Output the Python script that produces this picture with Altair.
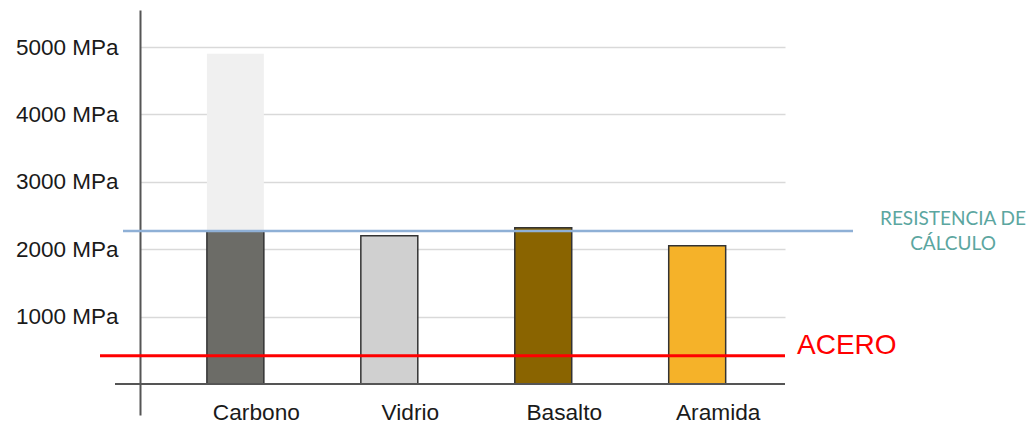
import altair as alt
import pandas as pd

# Tensile strength of fibre reinforcements (MPa)
materials = ["Carbono", "Vidrio", "Basalto", "Aramida"]
strength = [2270, 2200, 2320, 2050]
carbon_peak = 4900
fill_colors = ["#6c6c67", "#d0d0d0", "#8a6400", "#f5b229"]
steel_strength = 420
design_strength = 2270
y_ticks = [1000, 2000, 3000, 4000, 5000]

bars = pd.DataFrame({
    "material": materials,
    "lo": [0] * len(materials),
    "hi": strength,
    "color": fill_colors,
})
peak = pd.DataFrame({"material": [materials[0]], "lo": [strength[0]], "hi": [carbon_peak]})
steel = pd.DataFrame({"v": [steel_strength]})
design = pd.DataFrame({"v": [design_strength]})
base = pd.DataFrame({"v": [0]})

x_enc = alt.X(
    "material:N",
    sort=materials,
    scale=alt.Scale(paddingInner=0.63, paddingOuter=0.41, align=0.53),
    axis=alt.Axis(
        title=None, domain=False, ticks=False, labelAngle=0,
        labelPadding=-3, labelBaseline="middle", labelOffset=21,
        labelFontSize=22.7, labelFont="Liberation Sans", labelColor="#1a1a1a",
    ),
)
y_scale = alt.Scale(domain=[-460, 5549], nice=False, zero=False)
y_axis = alt.Axis(
    title=None, values=y_ticks, labelExpr="datum.value + ' MPa'",
    grid=True, gridColor="#d9d9d9", gridWidth=1.5,
    domain=True, domainColor="#555555", domainWidth=2,
    ticks=False, labelPadding=22, labelFontSize=22.5,
    labelFont="Liberation Sans", labelColor="#1a1a1a",
)

peak_bar = alt.Chart(peak).mark_bar(color="#f0f0f0").encode(
    x=x_enc,
    y=alt.Y("hi:Q", scale=y_scale, axis=y_axis),
    y2="lo:Q",
)

main_bars = alt.Chart(bars).mark_bar(stroke="#333333", strokeWidth=1.5).encode(
    x=x_enc,
    y=alt.Y("hi:Q", scale=y_scale, axis=y_axis),
    y2="lo:Q",
    color=alt.Color("color:N", scale=None),
)

baseline = alt.Chart(base).mark_rule(color="#555555", strokeWidth=2).encode(
    y=alt.Y("v:Q", scale=y_scale), x=alt.value(-25), x2=alt.value(645)
)

design_rule = alt.Chart(design).mark_rule(color="#8fb0d6", strokeWidth=2.5).encode(
    y=alt.Y("v:Q", scale=y_scale), x=alt.value(-17), x2=alt.value(713)
)

steel_rule = alt.Chart(steel).mark_rule(color="#ff0000", strokeWidth=3).encode(
    y=alt.Y("v:Q", scale=y_scale), x=alt.value(-40), x2=alt.value(645)
)

steel_label = alt.Chart(steel).mark_text(
    text="ACERO", align="left", baseline="middle", dy=-10,
    fontSize=28, font="Liberation Sans", color="#ff0000",
).encode(y=alt.Y("v:Q", scale=y_scale), x=alt.value(657))

design_label = alt.Chart(design).mark_text(
    text=["RESISTENCIA DE", "CÁLCULO"], align="center", baseline="middle",
    lineHeight=25, dy=-12, fontSize=19, font="Lato", color="#5ba6a0",
).encode(y=alt.Y("v:Q", scale=y_scale), x=alt.value(813))

chart = alt.layer(
    peak_bar, main_bars, baseline, design_rule, steel_rule, steel_label, design_label
).properties(
    width=645,
    height=405,
    padding={"left": 140, "top": 10, "right": 246, "bottom": 9},
    autosize=alt.AutoSizeParams(type="none"),
    background="white",
).configure_view(stroke=None)

chart.save("out.html", embed_options={"renderer": "svg", "actions": False})
